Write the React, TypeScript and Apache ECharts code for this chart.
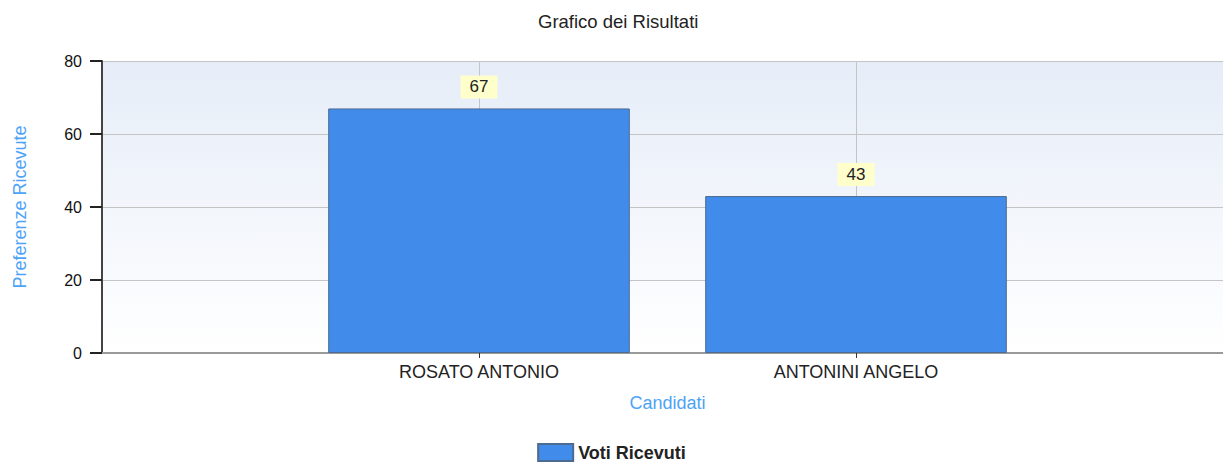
import React, { useEffect, useRef } from "react";
import * as echarts from "echarts";

const titleText = "Grafico dei Risultati";
const seriesName = "Voti Ricevuti";
const categories = ["ROSATO ANTONIO", "ANTONINI ANGELO"];
const values = [67, 43];
const yTicks = [0, 20, 40, 60, 80];
const xAxisName = "Candidati";
const yAxisName = "Preferenze Ricevute";

export default function App() {
  const ref = useRef<HTMLDivElement>(null);
  useEffect(() => {
    if (!ref.current) return;
    const chart = echarts.init(ref.current, undefined, { renderer: "svg" });
    const paddedCats = ["", ...categories, ""];
    const paddedVals: (number | null)[] = [null, ...values, null];
    const font = "'Liberation Sans', Arial, sans-serif";
    chart.setOption({
      animation: false,
      backgroundColor: "#ffffff",
      textStyle: { fontFamily: font },
      title: {
        text: titleText,
        left: 533,
        top: 7,
        textStyle: { fontSize: 18.5, fontWeight: "normal", color: "#222", fontFamily: font },
      },
      legend: {
        top: 443,
        left: "center",
        padding: 0,
        itemWidth: 35,
        itemHeight: 17,
        icon: "rect",
        itemGap: 6,
        textStyle: { fontSize: 18, fontWeight: "bold", color: "#222", fontFamily: font },
        data: [seriesName],
      },
      grid: {
        left: 102,
        width: 1131,
        top: 61,
        bottom: 110,
        outerBoundsMode: "none",
        containLabel: false,
        show: true,
        borderWidth: 0,
        backgroundColor: new echarts.graphic.LinearGradient(0, 0, 0, 1, [
          { offset: 0, color: "#e6edf8" },
          { offset: 1, color: "#ffffff" },
        ]),
      },
      xAxis: {
        type: "category",
        data: paddedCats,
        boundaryGap: false,
        name: xAxisName,
        nameLocation: "middle",
        nameGap: 41,
        nameTextStyle: { color: "#4da3f7", fontSize: 18, fontFamily: font },
        axisLine: { show: true, lineStyle: { color: "#9a9a9a", width: 2 } },
        axisTick: {
          show: true,
          length: 5,
          interval: (i: number) => i > 0 && i <= categories.length,
          lineStyle: { color: "#333" },
        },
        axisLabel: {
          interval: 0,
          margin: 10,
          fontSize: 18,
          color: "#222",
          fontFamily: font,
        },
        splitLine: {
          show: true,
          interval: (i: number) => i > 0 && i <= categories.length,
          lineStyle: { color: "#c4c4c4", width: 1 },
        },
      },
      yAxis: {
        type: "value",
        min: yTicks[0],
        max: yTicks[yTicks.length - 1],
        interval: yTicks[1] - yTicks[0],
        name: yAxisName,
        nameLocation: "middle",
        nameGap: 73,
        nameTextStyle: { color: "#4da3f7", fontSize: 18, fontFamily: font },
        axisLine: { show: true, lineStyle: { color: "#444", width: 2 } },
        axisTick: { show: true, inside: false, length: 12, lineStyle: { color: "#222", width: 2 } },
        axisLabel: { fontSize: 16, color: "#111", margin: 20, fontFamily: font },
        splitLine: { show: true, lineStyle: { color: "#c4c4c4", width: 1 } },
      },
      series: [
        {
          name: seriesName,
          type: "bar",
          data: paddedVals,
          barWidth: "80%",
          itemStyle: { color: "#418beb", borderColor: "#4d6a8f", borderWidth: 1 },
          label: {
            show: true,
            position: "top",
            distance: 10,
            fontSize: 17,
            color: "#222",
            backgroundColor: "#ffffcc",
            padding: [3, 9, 3, 9],
            fontFamily: font,
          },
        },
      ],
    });
    return () => chart.dispose();
  }, []);
  return (
    <div
      ref={ref}
      style={{ position: "fixed", left: 0, top: 0, width: 1223, height: 463 }}
    />
  );
}
